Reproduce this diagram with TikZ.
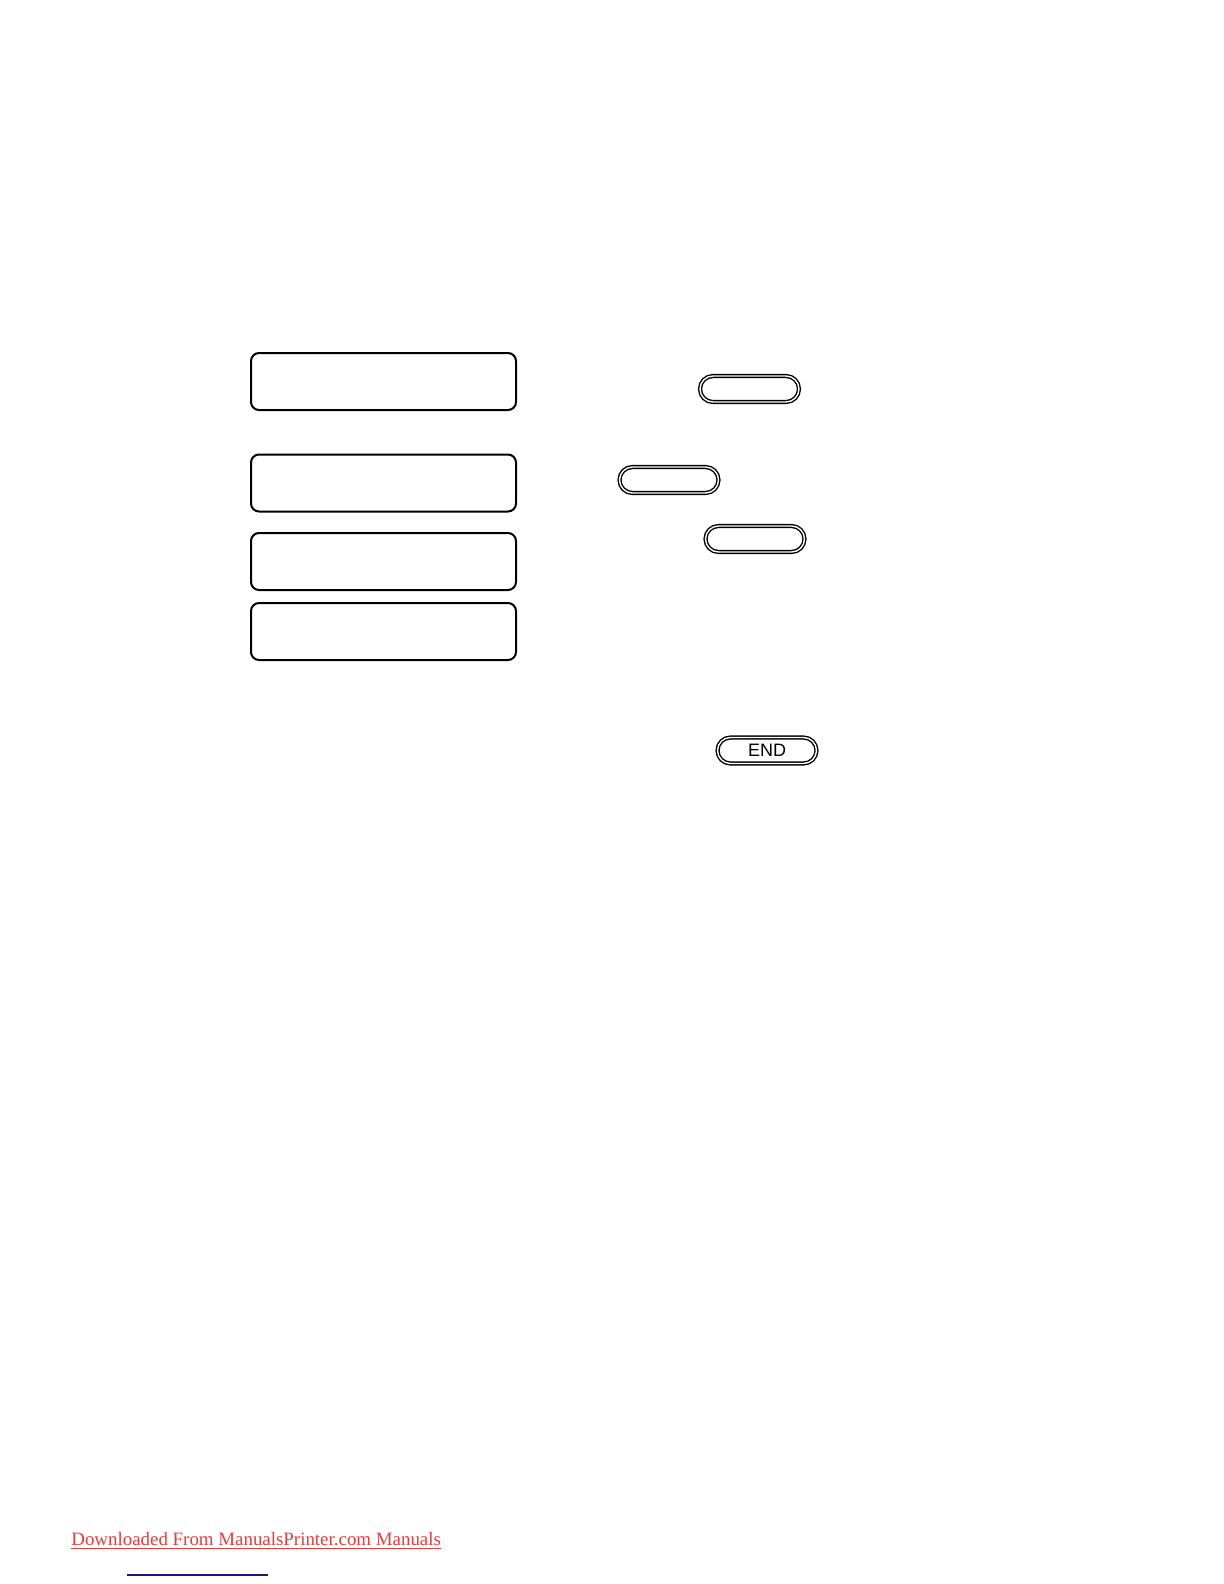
\documentclass[tikz,border=0pt]{standalone}
\usepackage{fontspec}
\setmainfont{Liberation Serif}
\setsansfont{Liberation Sans}
\usetikzlibrary{positioning}

\definecolor{linkred}{RGB}{226,62,62}
\definecolor{linkblue}{RGB}{24,24,128}

\tikzset{
  panel/.style={draw, line width=1pt, rounded corners=4pt, minimum width=132.5pt, minimum height=28.5pt, inner sep=0pt},
  keybtn/.style={draw, line width=0.7pt, double, double distance=0.7pt, rounded corners=6.5pt, minimum width=49.5pt, minimum height=13pt, inner sep=0pt, font=\sffamily\fontsize{9}{10}\selectfont}
}

\begin{document}
\begin{tikzpicture}[x=0.5pt, y=-0.5pt]
			\useasboundingbox (0,0) rectangle (1224,1584);

			% Display panels left column
			\node[panel] (disp-a) at (383.5,381.5) {};
			\node[panel] (disp-b) at (383.5,483) {};
			\node[panel] (disp-c) at (383.5,561.5) {};
			\node[panel] (disp-d) at (383.5,631.5) {};
			% Keys right column
			\node[keybtn] (key-a) at (749.5,389) {};
			\node[keybtn] (key-b) at (669,480) {};
			\node[keybtn] (key-c) at (755,539) {};
			\node[keybtn] (key-end) at (767,750.5) {END};
			% Footer
			\node[anchor=base west, inner sep=0pt, text=linkred, font=\fontsize{9.45}{11}\selectfont] (footer) at (71,1545) {\underline{Downloaded From ManualsPrinter.com Manuals}};
			\coordinate (rule-l) at (127,1575);
			\coordinate (rule-r) at (268,1575);
			\draw[linkblue, line width=0.6pt] (rule-l) -- (rule-r);
		\end{tikzpicture}
\end{document}
